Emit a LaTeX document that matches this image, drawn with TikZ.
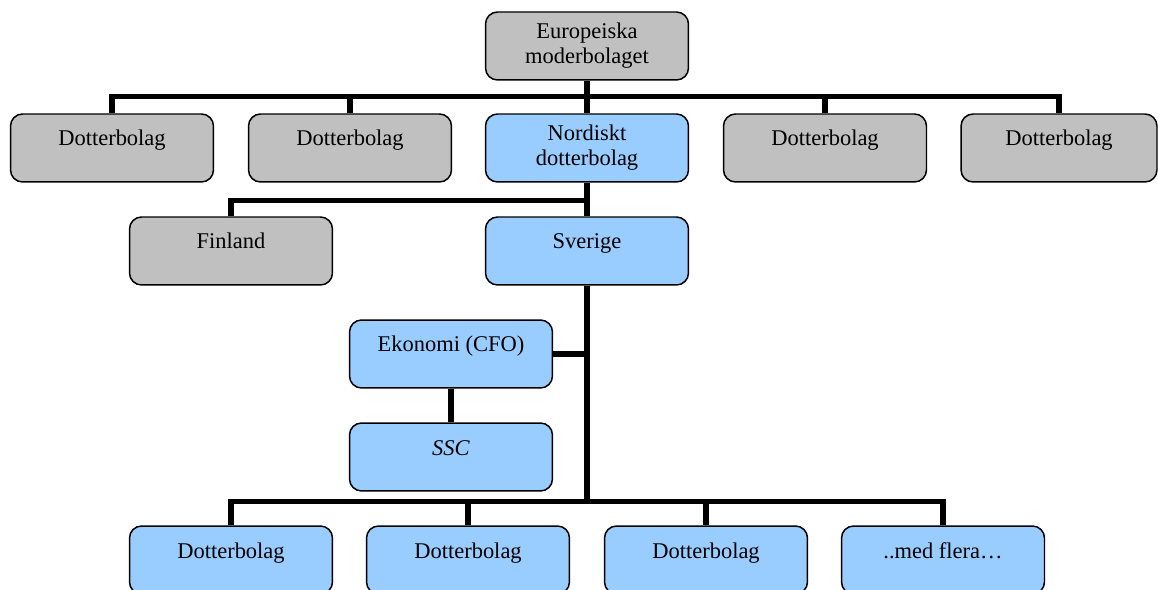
\documentclass[tikz,border=0pt]{standalone}
\usepackage{fontspec}
\setmainfont{Liberation Serif}
\definecolor{gra}{HTML}{C0C0C0}
\definecolor{bla}{HTML}{99CCFF}

\begin{document}
\begin{tikzpicture}[
  x=0.02cm, y=-0.02cm,
  bolag/.style={draw, line width=0.85pt, rounded corners=0.24cm, fill=gra, minimum width=4.06cm, minimum height=1.36cm, align=center, font=\fontsize{12.8}{14.2}\selectfont},
  nord/.style={bolag, fill=bla},
  enrad/.style={text height=0.32cm, text depth=0.40cm},
  linje/.style={line width=3pt}]

\useasboundingbox (0,0) rectangle (1158,590);

% Moderbolaget
\node[bolag] (moder) at (587,46) {Europeiska\\moderbolaget};

% Rad 1
\node[bolag, enrad] (b1) at ( 112,148) {Dotterbolag};
\node[bolag, enrad] (b2) at ( 350,148) {Dotterbolag};
\node[nord] (nordiskt) at ( 587,148) {Nordiskt\\dotterbolag};
\node[bolag, enrad] (b4) at ( 825,148) {Dotterbolag};
\node[bolag, enrad, minimum width=3.92cm] (b5) at (1059,148) {Dotterbolag};

% Rad 2
\node[bolag, enrad] (finland) at (231,251) {Finland};
\node[nord, enrad] (sverige) at (587,251) {Sverige};

% Ekonomi och SSC
\node[nord, enrad] (ekonomi) at (451,354) {Ekonomi (CFO)};
\node[nord, enrad] (ssc) at (451,457) {\textit{SSC}};

% Rad 3
\node[nord, enrad] (d1) at (231,560) {Dotterbolag};
\node[nord, enrad] (d2) at (468,560) {Dotterbolag};
\node[nord, enrad] (d3) at (706,560) {Dotterbolag};
\node[nord, enrad] (d4) at (943,560) {..med flera…};

% Linjer
\draw[linje] (b1.north) -- ++(0,-17) coordinate (toppbuss) -| (b5.north);
\draw[linje] (moder.south) -- (nordiskt.north);
\draw[linje] (b2.north) -- (b2.north |- toppbuss);
\draw[linje] (b4.north) -- (b4.north |- toppbuss);

\draw[linje] (finland.north) -- ++(0,-16) -| (sverige.north);
\draw[linje] (nordiskt.south) -- (sverige.north);

\draw[linje] (d1.north) -- ++(0,-24) coordinate (buss) -| (d4.north);
\draw[linje] (sverige.south) -- (sverige.south |- buss);
\draw[linje] (d2.north) -- (d2.north |- buss);
\draw[linje] (d3.north) -- (d3.north |- buss);

\draw[linje] (ekonomi.east) -- (ekonomi.east -| sverige.south);
\draw[linje] (ekonomi.south) -- (ssc.north);

\end{tikzpicture}
\end{document}
